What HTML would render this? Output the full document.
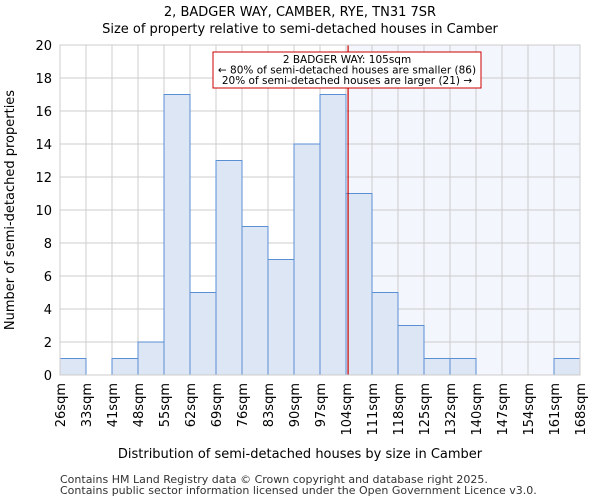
<!DOCTYPE html>
<html><head><meta charset="utf-8"><style>body{margin:0;background:#fff}svg{display:block;font-family:"DejaVu Sans","Liberation Sans",sans-serif}</style></head>
<body>
<svg id="c" width="600" height="500" viewBox="0 0 600 500">
<text x="300" y="16" text-anchor="middle" font-size="13">2, BADGER WAY, CAMBER, RYE, TN31 7SR</text>
<text x="300" y="33" text-anchor="middle" font-size="13">Size of property relative to semi-detached houses in Camber</text>
<g id="plot"></g>
<text x="300" y="458" text-anchor="middle" font-size="13">Distribution of semi-detached houses by size in Camber</text>
<text transform="translate(14,210) rotate(-90)" text-anchor="middle" font-size="13">Number of semi-detached properties</text>
<text x="60" y="483" font-size="11" fill="#333">Contains HM Land Registry data © Crown copyright and database right 2025.</text>
<text x="60" y="494" font-size="11" fill="#333">Contains public sector information licensed under the Open Government Licence v3.0.</text>
</svg>
<script>
const binLabels=["26sqm","33sqm","41sqm","48sqm","55sqm","62sqm","69sqm","76sqm","83sqm","90sqm","97sqm","104sqm","111sqm","118sqm","125sqm","132sqm","140sqm","147sqm","154sqm","161sqm","168sqm"];
const counts=[1,0,1,2,17,5,13,9,7,14,17,11,5,3,1,1,0,0,0,1];
const yTicks=[0,2,4,6,8,10,12,14,16,18,20];
const propertyBin=11.08;
const NS="http://www.w3.org/2000/svg";
const g=document.getElementById('plot');
const L=60,R=580,T=45,B=375;
const n=counts.length;
const x=i=>L+(R-L)*i/n;
const y=v=>B-(B-T)*v/20;
function mk(t,a){const e=document.createElementNS(NS,t);for(const k in a)e.setAttribute(k,a[k]);g.appendChild(e);return e;}
const px=x(propertyBin);
let e=mk('rect',{x:px,y:T,width:R-px,height:B-T,fill:'#f3f6fd'});


for(let i=0;i<=n;i++){e=mk('line',{x1:x(i),x2:x(i),y1:T,y2:B,stroke:'#cccccc','stroke-width':1});

}
yTicks.forEach(v=>{e=mk('line',{x1:L,x2:R,y1:y(v),y2:y(v),stroke:'#cccccc','stroke-width':1});


e=mk('text',{x:L-8,y:y(v)+5,'text-anchor':'end','font-size':13});e.textContent=v;

});
counts.forEach((c,i)=>{if(c<=0)return;e=mk('rect',{x:x(i),y:y(c),width:x(i+1)-x(i),height:B-y(c),fill:'#dce6f4',stroke:'#5b8fd4','stroke-width':1});

});
binLabels.forEach((l,i)=>{e=mk('text',{transform:`translate(${x(i)+5},${B+8}) rotate(-90)`,'text-anchor':'end','font-size':13});e.textContent=l;

});
e=mk('line',{x1:px,x2:px,y1:T,y2:B,stroke:'#cc0000','stroke-width':1.2});


e=mk('rect',{x:213,y:52,width:268,height:36,fill:'#fff',stroke:'#cc0000','stroke-width':1});


["2 BADGER WAY: 105sqm","← 80% of semi-detached houses are smaller (86)","20% of semi-detached houses are larger (21) →"].forEach((t,i)=>{e=mk('text',{x:347,y:63+i*10.5,'text-anchor':'middle','font-size':10.5});e.textContent=t;

});
e=mk('rect',{x:L,y:T,width:R-L,height:B-T,fill:'none',stroke:'#cccccc'});


</script>
</body></html>
